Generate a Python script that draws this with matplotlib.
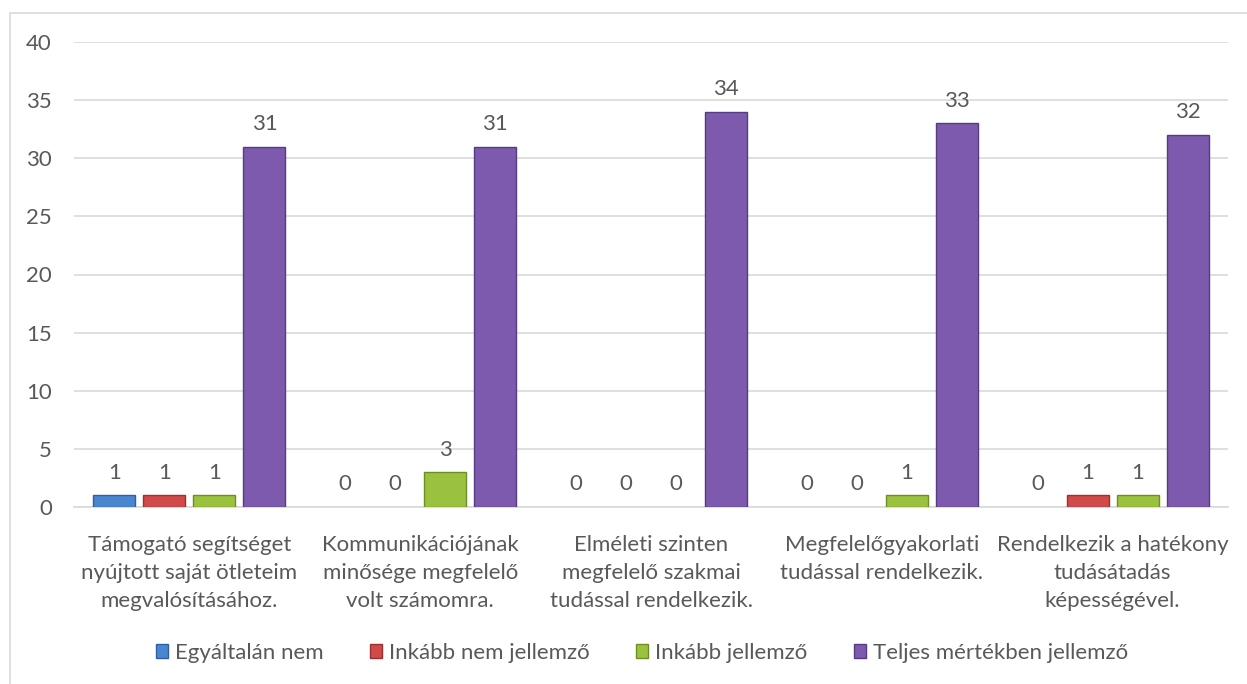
import matplotlib
matplotlib.use('Agg')
import matplotlib.pyplot as plt
import numpy as np
from matplotlib.patches import Rectangle

# values
categories = [
    "Támogató segítséget\nnyújtott saját ötleteim\nmegvalósításához.",
    "Kommunikációjának\nminősége megfelelő\nvolt számomra.",
    "Elméleti szinten\nmegfelelő szakmai\ntudással rendelkezik.",
    "Megfelelőgyakorlati\ntudással rendelkezik.",
    "Rendelkezik a hatékony\ntudásátadás\nképességével.",
]
series_names = ["Egyáltalán nem", "Inkább nem jellemző", "Inkább jellemző",
                "Teljes mértékben jellemző"]
egyaltalan_nem = [1, 0, 0, 0, 0]
inkabb_nem = [1, 0, 0, 0, 1]
inkabb_jellemzo = [1, 3, 0, 1, 1]
teljes = [31, 31, 34, 33, 32]
yticks = [0, 5, 10, 15, 20, 25, 30, 35, 40]

colors = ["#4A86D0", "#D04A4A", "#9BC23E", "#7E5AAE"]
edges = ["#2F5F9E", "#9A3030", "#6E8E25", "#553C80"]
text_color = "#595959"
grid_color = "#D9D9D9"

plt.rcParams['font.family'] = ['Lato', 'DejaVu Sans']
fs = 16

fig = plt.figure(figsize=(12.47, 6.84), dpi=100)
fig.patch.set_facecolor('white')
# chart border
fig.patches.append(Rectangle((10 / 1247, -0.1), 1.2, 1 - 13 / 684 + 0.1,
                             transform=fig.transFigure, fill=False,
                             edgecolor=grid_color, linewidth=1.2))

ax = fig.add_axes([74 / 1247, 1 - 507 / 684, (1228 - 74) / 1247, (507 - 42) / 684])

x = np.arange(len(categories))
step = 0.2167
width = 0.182
all_series = [egyaltalan_nem, inkabb_nem, inkabb_jellemzo, teljes]
for i, vals in enumerate(all_series):
    pos = x + (i - 1.5) * step
    lw = [1 if v else 0 for v in vals]
    bars = ax.bar(pos, vals, width, color=colors[i], edgecolor=edges[i],
                  linewidth=lw, label=series_names[i], zorder=3)
    for b, v in zip(bars, vals):
        ax.annotate(str(v), (b.get_x() + b.get_width() / 2, v),
                    xytext=(0, 9), textcoords='offset points',
                    ha='center', va='bottom', fontsize=fs, color=text_color)

ax.set_xlim(-0.5, len(categories) - 0.5)
ax.set_ylim(0, 40)
ax.set_yticks(yticks)
ax.set_xticks(x)
ax.set_xticklabels(categories, fontsize=fs, color=text_color, linespacing=1.5)
ax.tick_params(axis='x', length=0, pad=20)
ax.tick_params(axis='y', length=0, pad=16, labelsize=fs, labelcolor=text_color)
ax.grid(True, axis='y', color=grid_color, linewidth=1.2, zorder=0)
for s in ['top', 'right', 'left']:
    ax.spines[s].set_visible(False)
ax.spines['bottom'].set_color(grid_color)
ax.spines['bottom'].set_linewidth(1.2)

leg = fig.legend(loc='center', bbox_to_anchor=(642 / 1247, 1 - 653 / 684), ncol=4,
                 frameon=False, fontsize=fs, handlelength=0.55, handleheight=0.55,
                 handletextpad=0.3, columnspacing=2.1, labelcolor=text_color)

fig.savefig('out.png', dpi=100)
